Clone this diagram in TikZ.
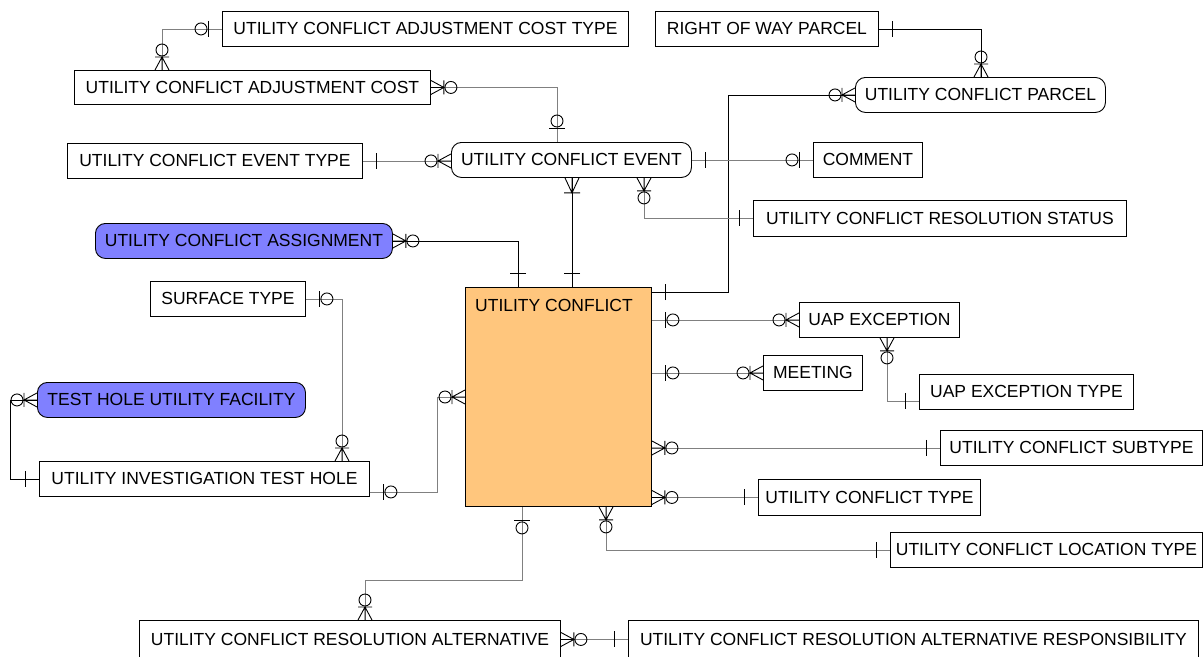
\documentclass[tikz,border=0pt]{standalone}
\usepackage{fontspec}
\setmainfont{Liberation Sans}
\usetikzlibrary{calc}
\definecolor{ucorange}{RGB}{255,198,125}
\definecolor{ucblue}{RGB}{128,128,255}
\tikzset{
 ent/.style={draw=black, line width=0.9pt, fill=white, anchor=north west, inner sep=0pt, font=\fontsize{17.5}{21}\selectfont, text=black},
 rnd/.style={ent, rounded corners=10pt},
 idl/.style={draw=black, line width=0.9pt},
 nid/.style={draw=black!50, line width=0.8pt},
 sym/.style={line width=0.9pt, draw=black},
 one/.pic={\draw[sym] (14pt,-8pt) -- (14pt,8pt);},
 zone/.pic={\draw[sym] (14pt,-8pt) -- (14pt,8pt); \draw[sym] (21pt,0pt) circle (6pt);},
 zmany/.pic={\draw[sym] (0pt,7pt) -- (13pt,0pt) -- (0pt,-7pt) (0pt,0pt) -- (13pt,0pt) (13pt,-7pt) -- (13pt,7pt); \draw[sym] (20pt,0pt) circle (6pt);},
 omany/.pic={\draw[sym] (0pt,7pt) -- (15pt,0pt) -- (0pt,-7pt) (0pt,0pt) -- (15pt,0pt) (15pt,-8pt) -- (15pt,8pt);},
}
\begin{document}
\begin{tikzpicture}[x=1pt,y=-1pt]
\useasboundingbox (0,0) rectangle (1204,656);
\fill[white] (0,0) rectangle (1204,656);
% entities
\node[ent, minimum width=406pt, minimum height=35pt] (act) at (222,11) {UTILITY CONFLICT ADJUSTMENT COST TYPE};
\node[ent, minimum width=356pt, minimum height=34pt] (adc) at (74,70) {UTILITY CONFLICT ADJUSTMENT COST};
\node[ent, minimum width=223pt, minimum height=35pt] (row) at (655,11) {RIGHT OF WAY PARCEL};
\node[rnd, minimum width=250pt, minimum height=35pt] (ucp) at (855,77) {UTILITY CONFLICT PARCEL};
\node[ent, minimum width=295pt, minimum height=35pt] (evtt) at (67,143) {UTILITY CONFLICT EVENT TYPE};
\node[rnd, minimum width=240pt, minimum height=35pt] (evt) at (451,142) {UTILITY CONFLICT EVENT};
\node[ent, minimum width=109pt, minimum height=35pt] (cmt) at (813,142) {COMMENT};
\node[ent, minimum width=373pt, minimum height=36pt] (rst) at (753,200) {UTILITY CONFLICT RESOLUTION STATUS};
\node[rnd, fill=ucblue, minimum width=297pt, minimum height=35pt] (asg) at (95,223) {UTILITY CONFLICT ASSIGNMENT};
\node[ent, minimum width=155pt, minimum height=35pt] (sfc) at (150,281) {SURFACE TYPE};
\node[rnd, fill=ucblue, minimum width=268pt, minimum height=35pt] (thf) at (37,382) {TEST HOLE UTILITY FACILITY};
\node[ent, minimum width=330pt, minimum height=35pt] (tho) at (39,461) {UTILITY INVESTIGATION TEST HOLE};
\node[ent, fill=ucorange, minimum width=186pt, minimum height=219pt] (uc) at (465,287) {};
\node[anchor=north west, inner sep=0pt, font=\fontsize{17.5}{21}\selectfont] (uclab) at ($(uc.north west)+(10,12)$) {UTILITY CONFLICT};
\node[ent, minimum width=160pt, minimum height=35pt] (uap) at (799,302) {UAP EXCEPTION};
\node[ent, minimum width=99pt, minimum height=35pt] (mtg) at (763,355) {MEETING};
\node[ent, minimum width=214pt, minimum height=35pt] (uapt) at (919,374) {UAP EXCEPTION TYPE};
\node[ent, minimum width=262pt, minimum height=35pt] (sub) at (940,430) {UTILITY CONFLICT SUBTYPE};
\node[ent, minimum width=222pt, minimum height=36pt] (typ) at (758,479) {UTILITY CONFLICT TYPE};
\node[ent, minimum width=312pt, minimum height=35pt] (loc) at (890,532) {UTILITY CONFLICT LOCATION TYPE};
\node[ent, minimum width=421pt, minimum height=38pt] (ra) at (139,620) {UTILITY CONFLICT RESOLUTION ALTERNATIVE};
\node[ent, minimum width=570pt, minimum height=38pt] (rar) at (628,620) {UTILITY CONFLICT RESOLUTION ALTERNATIVE RESPONSIBILITY};
% a
\draw[nid] (act.west) -| ($(adc.north west)+(88,0)$);
\pic[rotate=180] at (act.west) {zone};
\pic[rotate=90] at ($(adc.north west)+(88,0)$) {zmany};
% b
\draw[nid] (adc.east) -| ($(evt.north west)+(106,0)$);
\pic at (adc.east) {zmany};
\pic[rotate=90] at ($(evt.north west)+(106,0)$) {zone};
% c
\draw[idl] (row.east) -| ($(ucp.north west)+(126,0)$);
\pic at (row.east) {one};
\pic[rotate=90] at ($(ucp.north west)+(126,0)$) {zmany};
% d
\draw[idl] (ucp.west) -| ($(uc.north east)+(77,5)$) -- ($(uc.north east)+(0,5)$);
\pic[rotate=180] at (ucp.west) {zmany};
\pic at ($(uc.north east)+(0,5)$) {one};
% e
\draw[nid] (evtt.east) -- (evtt.east -| evt.west);
\pic at (evtt.east) {one};
\pic[rotate=180] at (evtt.east -| evt.west) {zmany};
% f
\draw[nid] (evt.east) -- (evt.east -| cmt.west);
\pic at (evt.east) {one};
\pic[rotate=180] at (evt.east -| cmt.west) {zone};
% g
\draw[idl] ($(evt.south west)+(121,0)$) -- ($(uc.north west)+(107,0)$);
\pic[rotate=-90] at ($(evt.south west)+(121,0)$) {omany};
\pic[rotate=90] at ($(uc.north west)+(107,0)$) {one};
% h
\draw[nid] ($(evt.south west)+(193,0)$) |- (rst.west);
\pic[rotate=-90] at ($(evt.south west)+(193,0)$) {zmany};
\pic[rotate=180] at (rst.west) {one};
% i
\draw[idl] (asg.east) -| ($(uc.north west)+(53,0)$);
\pic at (asg.east) {zmany};
\pic[rotate=90] at ($(uc.north west)+(53,0)$) {one};
% j
\draw[nid] (sfc.east) -| ($(tho.north west)+(303,0)$);
\pic at (sfc.east) {zone};
\pic[rotate=90] at ($(tho.north west)+(303,0)$) {zmany};
% k
\draw[idl] (thf.west) -- ($(thf.west)+(-27,0)$) |- (tho.west);
\pic[rotate=180] at (thf.west) {zmany};
\pic[rotate=180] at (tho.west) {one};
% l
\draw[nid] ($(tho.east)+(0,13)$) -| ($(uc.north west)+(-28,110)$) -- ($(uc.north west)+(0,110)$);
\pic at ($(tho.east)+(0,13)$) {zone};
\pic[rotate=180] at ($(uc.north west)+(0,110)$) {zmany};
% m
\draw[nid] (uap.west -| uc.east) -- (uap.west);
\pic at (uap.west -| uc.east) {zone};
\pic[rotate=180] at (uap.west) {zmany};
% n
\draw[nid] (mtg.west -| uc.east) -- (mtg.west);
\pic at (mtg.west -| uc.east) {zone};
\pic[rotate=180] at (mtg.west) {zmany};
% o
\draw[nid] ($(uap.south west)+(88,0)$) |- ($(uapt.west)+(0,9)$);
\pic[rotate=-90] at ($(uap.south west)+(88,0)$) {zmany};
\pic[rotate=180] at ($(uapt.west)+(0,9)$) {one};
% p
\draw[nid] (sub.west -| uc.east) -- (sub.west);
\pic at (sub.west -| uc.east) {zmany};
\pic[rotate=180] at (sub.west) {one};
% q
\draw[nid] (typ.west -| uc.east) -- (typ.west);
\pic at (typ.west -| uc.east) {zmany};
\pic[rotate=180] at (typ.west) {one};
% r
\draw[nid] ($(uc.south west)+(141,0)$) |- (loc.west);
\pic[rotate=-90] at ($(uc.south west)+(141,0)$) {zmany};
\pic[rotate=180] at (loc.west) {one};
% s
\draw[nid] ($(uc.south west)+(57,0)$) -- ($(uc.south west)+(57,73)$) -| ($(ra.north west)+(226,0)$);
\pic[rotate=-90] at ($(uc.south west)+(57,0)$) {zone};
\pic[rotate=90] at ($(ra.north west)+(226,0)$) {zmany};
% t
\draw[nid] (ra.east) -- (ra.east -| rar.west);
\pic at (ra.east) {zmany};
\pic[rotate=180] at (ra.east -| rar.west) {one};
\end{tikzpicture}
\end{document}
